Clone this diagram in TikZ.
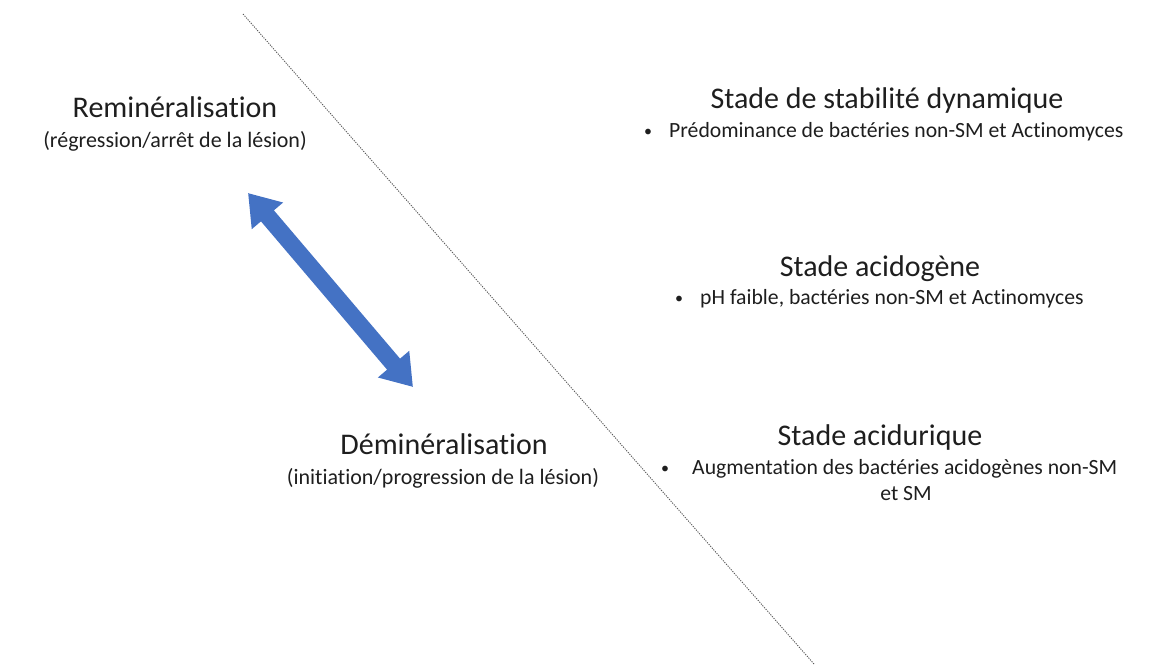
\documentclass[tikz,border=0pt]{standalone}
\usepackage{fontspec}
\setmainfont{Carlito}[Ligatures=NoCommon]
\usetikzlibrary{arrows.meta}
\definecolor{txt}{RGB}{30,30,30}
\definecolor{arrowblue}{RGB}{68,114,196}
\begin{document}
\begin{tikzpicture}[x=1pt,y=-1pt,
  title/.style={anchor=base,font=\fontsize{30}{36}\selectfont,text=txt,inner sep=0pt},
  sub/.style={anchor=base,font=\fontsize{22}{26}\selectfont,text=txt,inner sep=0pt},
  bul/.style={anchor=base west,font=\fontsize{21.7}{26}\selectfont,text=txt,inner sep=0pt},
  dot/.style={anchor=base,font=\fontsize{16}{20}\selectfont,text=txt,inner sep=0pt},
  cont/.style={anchor=base,font=\fontsize{21.7}{26}\selectfont,text=txt,inner sep=0pt},
  bigarrow/.style={arrowblue,line width=17pt,line cap=butt,
    {Triangle[length=30pt 0,width=39pt 0]}-{Triangle[length=30pt 0,width=39pt 0]}},
  divider/.style={gray!70!black,line width=0.9pt,dash pattern=on 1.2pt off 1.2pt}]
\useasboundingbox (0,0) rectangle (1159,664);
% divider line
\coordinate (d1) at (243,14);
\coordinate (d2) at (814,664);
\draw[divider] (d1) -- (d2);
% left texts
\node[title] (remin) at (175,117) {Reminéralisation};
\node[sub] (remins) at (175,147) {(régression/arrêt de la lésion)};
\node[title] (demin) at (444,454) {Déminéralisation};
\node[sub] (demins) at (443,484) {(initiation/progression de la lésion)};
% arrow
\coordinate (a1) at (248,193);
\coordinate (a2) at (413,387);
\draw[bigarrow] (a1) -- (a2);
% right texts
\node[title] (s1) at (887,108) {Stade de stabilité dynamique};
\node[dot] (b1) at (648,136) {•};
\node[bul] (t1) at (669,137) {Prédominance de bactéries non-SM et Actinomyces};
\node[title] (s2) at (880,276) {Stade acidogène};
\node[dot] (b2) at (679,303) {•};
\node[bul] (t2) at (700,304) {pH faible, bactéries non-SM et Actinomyces};
\node[title] (s3) at (880,445) {Stade acidurique};
\node[dot] (b3) at (665,473) {•};
\node[bul] (t3) at (692,474) {Augmentation des bactéries acidogènes non-SM};
\node[cont] (t3b) at (906,500) {et SM};
\end{tikzpicture}
\end{document}
